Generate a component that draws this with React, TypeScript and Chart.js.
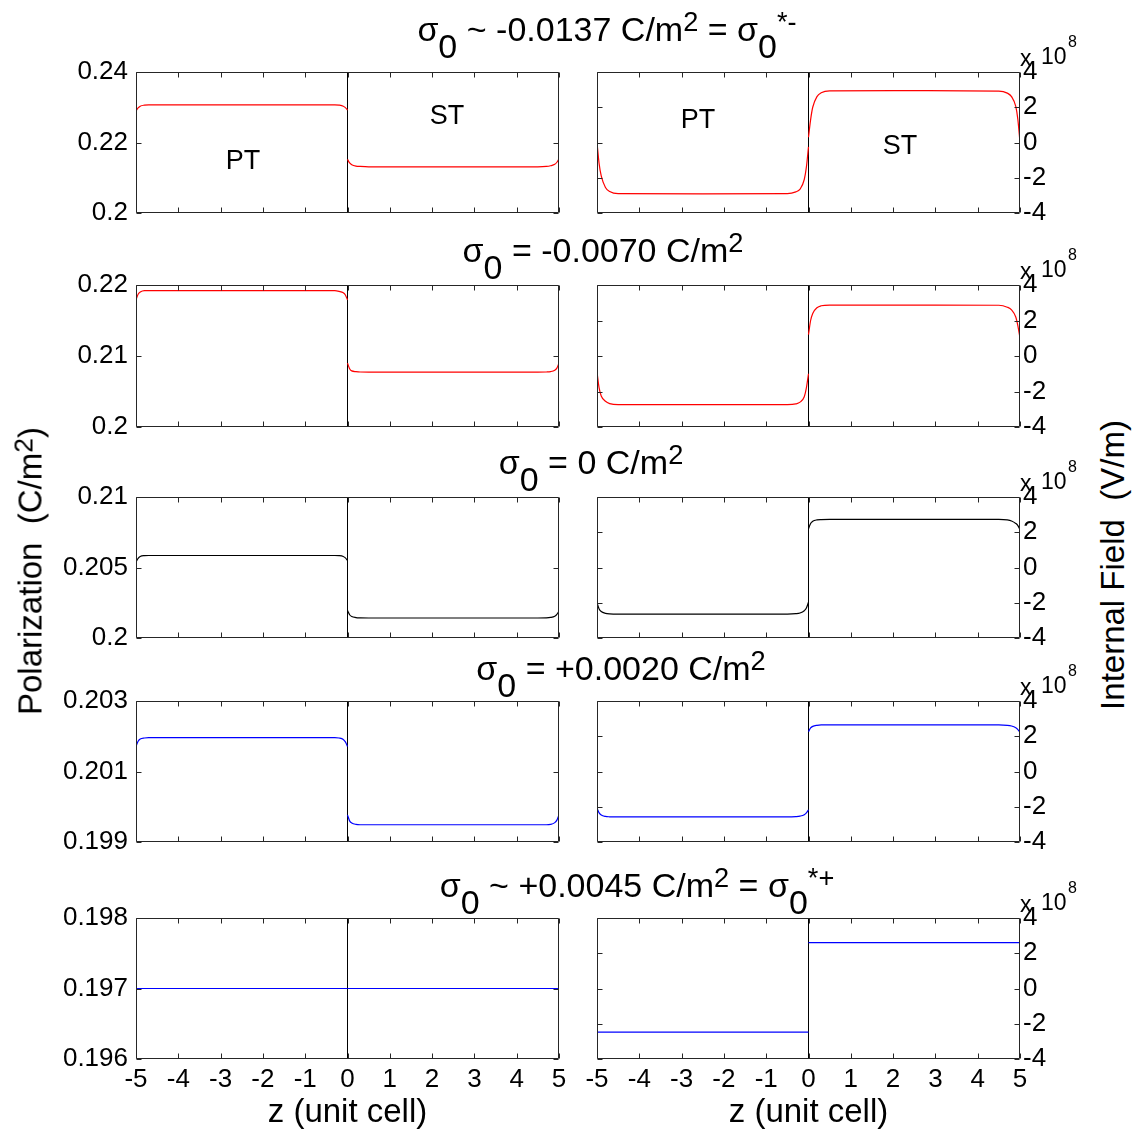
import React, { useEffect, useRef } from 'react';
import { Chart, registerables } from 'chart.js';

Chart.register(...registerables);

// ---------------- data ----------------
// z positions (unit cells) sampled in the PT layer and the ST layer
const Z_PT = [-5, -4.95, -4.9, -4.8, -4.7, -4.5, -2.5, -0.5, -0.3, -0.2, -0.1, -0.05, 0];
const Z_ST = [0, 0.05, 0.1, 0.2, 0.3, 0.5, 2.5, 4.5, 4.7, 4.8, 4.9, 4.95, 5];
const Z_INTERFACE = 0;

// Polarization (C/m^2)
const P1_PT = [0.229, 0.2298, 0.2303, 0.2306, 0.2307, 0.2307, 0.2307, 0.2307, 0.2307, 0.2306, 0.2303, 0.2299, 0.2292];
const P1_ST = [0.2152, 0.2142, 0.2137, 0.2133, 0.2132, 0.2131, 0.2131, 0.2131, 0.2132, 0.2134, 0.2138, 0.2144, 0.2154];
const P2_PT = [0.2179, 0.2187, 0.219, 0.2192, 0.2192, 0.2192, 0.2192, 0.2192, 0.2192, 0.2191, 0.2189, 0.2186, 0.2179];
const P2_ST = [0.209, 0.2082, 0.2079, 0.2078, 0.20775, 0.20773, 0.20773, 0.20773, 0.20775, 0.2078, 0.208, 0.2083, 0.209];
const P3_PT = [0.2054, 0.20565, 0.20578, 0.20584, 0.20585, 0.20585, 0.20585, 0.20585, 0.20585, 0.20584, 0.20578, 0.20568, 0.2055];
const P3_ST = [0.20194, 0.20165, 0.20152, 0.20145, 0.20143, 0.20142, 0.20142, 0.20142, 0.20143, 0.20146, 0.20155, 0.20168, 0.2019];
const P4_PT = [0.20171, 0.20186, 0.20192, 0.20195, 0.20196, 0.20196, 0.20196, 0.20196, 0.20196, 0.20195, 0.20191, 0.20184, 0.20171];
const P4_ST = [0.19977, 0.1996, 0.19954, 0.1995, 0.19949, 0.19949, 0.19949, 0.19949, 0.19949, 0.1995, 0.19955, 0.19962, 0.19977];
const P5_PT = [0.197, 0.197, 0.197, 0.197, 0.197, 0.197, 0.197, 0.197, 0.197, 0.197, 0.197, 0.197, 0.197];
const P5_ST = [0.197, 0.197, 0.197, 0.197, 0.197, 0.197, 0.197, 0.197, 0.197, 0.197, 0.197, 0.197, 0.197];

// Internal field (x 10^8 V/m)
const E1_PT = [0.0, -1.2, -1.9, -2.55, -2.78, -2.9, -2.91, -2.9, -2.8, -2.65, -2.1, -1.4, -0.25];
const E1_ST = [0.3, 1.3, 2.0, 2.6, 2.82, 2.93, 2.94, 2.92, 2.8, 2.6, 2.05, 1.3, 0.0];
const E2_PT = [-0.9, -1.8, -2.25, -2.55, -2.68, -2.74, -2.74, -2.74, -2.7, -2.6, -2.3, -1.8, -1.0];
const E2_ST = [1.2, 2.0, 2.4, 2.72, 2.83, 2.87, 2.87, 2.86, 2.75, 2.6, 2.2, 1.7, 1.0];
const E3_PT = [-2.0, -2.35, -2.5, -2.6, -2.63, -2.64, -2.64, -2.64, -2.62, -2.58, -2.45, -2.3, -1.97];
const E3_ST = [2.2, 2.5, 2.62, 2.7, 2.72, 2.73, 2.73, 2.73, 2.7, 2.64, 2.5, 2.38, 2.14];
const E4_PT = [-2.08, -2.35, -2.47, -2.55, -2.57, -2.58, -2.58, -2.58, -2.56, -2.53, -2.45, -2.35, -2.17];
const E4_ST = [2.26, 2.47, 2.56, 2.62, 2.64, 2.64, 2.64, 2.64, 2.62, 2.58, 2.48, 2.38, 2.23];
const E5_PT = [-2.47, -2.47, -2.47, -2.47, -2.47, -2.47, -2.47, -2.47, -2.47, -2.47, -2.47, -2.47, -2.47];
const E5_ST = [2.6, 2.6, 2.6, 2.6, 2.6, 2.6, 2.6, 2.6, 2.6, 2.6, 2.6, 2.6, 2.6];

// ticks
const X_TICKS = [-5, -4, -3, -2, -1, 0, 1, 2, 3, 4, 5];
const X_TICK_LABELS = ['-5', '-4', '-3', '-2', '-1', '0', '1', '2', '3', '4', '5'];
const P_TICKS_1 = [0.2, 0.22, 0.24];
const P_TICKS_2 = [0.2, 0.21, 0.22];
const P_TICKS_3 = [0.2, 0.205, 0.21];
const P_TICKS_4 = [0.199, 0.201, 0.203];
const P_TICKS_5 = [0.196, 0.197, 0.198];
const P_LABELS_1 = ['0.2', '0.22', '0.24'];
const P_LABELS_2 = ['0.2', '0.21', '0.22'];
const P_LABELS_3 = ['0.2', '0.205', '0.21'];
const P_LABELS_4 = ['0.199', '0.201', '0.203'];
const P_LABELS_5 = ['0.196', '0.197', '0.198'];
const E_TICKS = [-4, -2, 0, 2, 4];
const E_LABELS = ['-4', '-2', '0', '2', '4'];

// row titles
const SIGMA_RELATION = ['~', '=', '=', '=', '~'];
const SIGMA_VALUES = ['-0.0137', '-0.0070', '0', '+0.0020', '+0.0045'];
const SIGMA_STAR = ['-', '', '', '', '+'];
const LINE_COLORS = ['#ff0000', '#ff0000', '#000000', '#0000ff', '#0000ff'];

// ---------------- layout ----------------
const FONT = '"Liberation Sans", Arial, Helvetica, sans-serif';
const PLOT_TOPS = [72, 285, 497, 701, 918];
const PLOT_H = [141, 142, 141, 141, 141];
const LEFT_X0 = 136;
const RIGHT_X0 = 597;
const PLOT_W = 423;
const PAD = 20; // horizontal padding
const VPAD = 32; // vertical padding (room for half tick labels)
const Y_LEFT_W = 100;
const Y_RIGHT_W = 70;
const X_AXIS_H = 50;
const TITLE_BASELINES = [41, 262, 474, 680, 897];
const TITLE_CENTERS = [607, 603, 591, 621, 637];
const TICK_FONT = 26;

const P_PT = [P1_PT, P2_PT, P3_PT, P4_PT, P5_PT];
const P_ST = [P1_ST, P2_ST, P3_ST, P4_ST, P5_ST];
const E_PT = [E1_PT, E2_PT, E3_PT, E4_PT, E5_PT];
const E_ST = [E1_ST, E2_ST, E3_ST, E4_ST, E5_ST];
const P_TICKS = [P_TICKS_1, P_TICKS_2, P_TICKS_3, P_TICKS_4, P_TICKS_5];
const P_LABELS = [P_LABELS_1, P_LABELS_2, P_LABELS_3, P_LABELS_4, P_LABELS_5];

const pts = (xs: number[], ys: number[]) => xs.map((x, i) => ({ x, y: ys[i] }));

const framePlugin = {
  id: 'frameTicks',
  afterDatasetsDraw(chart: any, _args: any, opts: any) {
    const { ctx, chartArea: a, scales } = chart;
    const xs = scales.x;
    const ys = scales.y;
    const L = Math.round(a.left) + 0.5;
    const R = Math.round(a.right) - 0.5;
    const T = Math.round(a.top) + 0.5;
    const B = Math.round(a.bottom) - 0.5;
    const tl = 5;
    ctx.save();
    ctx.strokeStyle = '#262626';
    ctx.lineWidth = 1;
    ctx.beginPath();
    ctx.rect(L, T, R - L, B - T);
    (opts.xTicks as number[]).forEach((v) => {
      const px = Math.round(xs.getPixelForValue(v)) + 0.5;
      ctx.moveTo(px, B);
      ctx.lineTo(px, B - tl);
      ctx.moveTo(px, T);
      ctx.lineTo(px, T + tl);
    });
    (opts.yTicks as number[]).forEach((v) => {
      const py = Math.round(ys.getPixelForValue(v)) + 0.5;
      ctx.moveTo(L, py);
      ctx.lineTo(L + tl, py);
      ctx.moveTo(R, py);
      ctx.lineTo(R - tl, py);
    });
    ctx.stroke();
    ctx.restore();
  },
};

function makeConfig(p: { row: number; side: 'left' | 'right' }) {
  const { row, side } = p;
  const isBottom = row === 4;
  const left = side === 'left';
  const yTicks = left ? P_TICKS[row] : E_TICKS;
  const yLabels = left ? P_LABELS[row] : E_LABELS;
  const ptVals = left ? P_PT[row] : E_PT[row];
  const stVals = left ? P_ST[row] : E_ST[row];
  const color = LINE_COLORS[row];
  const curve = (data: any[]) => ({
    data,
    borderColor: color,
    backgroundColor: color,
    borderWidth: 1.2,
    showLine: true,
    pointRadius: 0,
    cubicInterpolationMode: 'monotone',
    fill: false,
  });
  const tickFont = { family: FONT, size: TICK_FONT };
  return {
    type: 'scatter',
    data: {
      datasets: [
        curve(pts(Z_PT, ptVals)),
        curve(pts(Z_ST, stVals)),
        {
          data: [
            { x: Z_INTERFACE, y: yTicks[0] },
            { x: Z_INTERFACE, y: yTicks[yTicks.length - 1] },
          ],
          borderColor: '#000000',
          borderWidth: 1,
          showLine: true,
          pointRadius: 0,
          tension: 0,
        },
      ],
    },
    options: {
      animation: false,
      responsive: false,
      maintainAspectRatio: false,
      devicePixelRatio: 1,
      events: [],
      layout: {
        padding: {
          top: VPAD,
          left: left ? 0 : PAD,
          right: left ? PAD : 0,
          bottom: isBottom ? 0 : VPAD,
        },
      },
      plugins: {
        legend: { display: false },
        tooltip: { enabled: false },
        frameTicks: { xTicks: X_TICKS, yTicks },
      },
      scales: {
        x: {
          type: 'linear',
          position: 'bottom',
          min: X_TICKS[0],
          max: X_TICKS[X_TICKS.length - 1],
          display: isBottom,
          grid: { display: false, drawTicks: false },
          border: { display: false },
          afterBuildTicks: (s: any) => {
            s.ticks = X_TICKS.map((v) => ({ value: v }));
          },
          afterFit: (s: any) => {
            s.height = isBottom ? X_AXIS_H : 0;
          },
          ticks: {
            autoSkip: false,
            maxRotation: 0,
            minRotation: 0,
            padding: 5,
            color: '#000',
            font: tickFont,
            callback: (_v: any, i: number) => X_TICK_LABELS[i],
          },
        },
        y: {
          type: 'linear',
          position: side,
          min: yTicks[0],
          max: yTicks[yTicks.length - 1],
          grid: { display: false, drawTicks: false },
          border: { display: false },
          afterBuildTicks: (s: any) => {
            s.ticks = yTicks.map((v) => ({ value: v }));
          },
          afterFit: (s: any) => {
            s.width = left ? Y_LEFT_W : Y_RIGHT_W;
          },
          ticks: {
            autoSkip: false,
            padding: left ? 8 : 3,
            color: '#000',
            font: tickFont,
            callback: (_v: any, i: number) => yLabels[i],
          },
        },
      },
    },
    plugins: [framePlugin],
  } as any;
}

function Panel({ row, side }: { row: number; side: 'left' | 'right' }) {
  const ref = useRef<HTMLCanvasElement>(null);
  const isBottom = row === 4;
  const left = side === 'left';
  const width = left ? Y_LEFT_W + PLOT_W + PAD : PAD + PLOT_W + Y_RIGHT_W;
  const height = VPAD + PLOT_H[row] + (isBottom ? X_AXIS_H : VPAD);
  const x = left ? LEFT_X0 - Y_LEFT_W : RIGHT_X0 - PAD;
  const y = PLOT_TOPS[row] - VPAD;
  useEffect(() => {
    const chart = new Chart(ref.current as HTMLCanvasElement, makeConfig({ row, side }));
    return () => chart.destroy();
  }, [row, side]);
  return (
    <canvas
      ref={ref}
      width={width}
      height={height}
      style={{ position: 'absolute', left: x, top: y, width, height }}
    />
  );
}

const BASE = 0.8465;

function Text({
  x,
  baseline,
  size,
  children,
  align = 'center',
}: {
  x: number;
  baseline: number;
  size: number;
  children: any;
  align?: 'center' | 'left';
}) {
  return (
    <div
      style={{
        position: 'absolute',
        left: x,
        top: baseline - BASE * size,
        fontSize: size,
        lineHeight: 1,
        whiteSpace: 'nowrap',
        fontFamily: FONT,
        color: '#000',
        transform: align === 'center' ? 'translateX(-50%)' : undefined,
      }}
    >
      {children}
    </div>
  );
}

const Sub = ({ children }: { children: any }) => (
  <span style={{ position: 'relative', top: '0.5em', fontSize: '1em' }}>{children}</span>
);
const Sup = ({ children }: { children: any }) => (
  <span style={{ position: 'relative', top: '-0.36em', fontSize: '0.8em' }}>{children}</span>
);

function VLabel({ cx, cy, size, children }: { cx: number; cy: number; size: number; children: any }) {
  return (
    <div
      style={{
        position: 'absolute',
        left: cx,
        top: cy,
        fontSize: size,
        lineHeight: 1,
        whiteSpace: 'pre',
        fontFamily: FONT,
        color: '#000',
        transform: 'translate(-50%, -50%) rotate(-90deg)',
      }}
    >
      {children}
    </div>
  );
}

export default function App() {
  const rows = [0, 1, 2, 3, 4];
  return (
    <div
      style={{
        position: 'absolute',
        left: 0,
        top: 0,
        width: 1144,
        height: 1137,
        background: '#fff',
        overflow: 'hidden',
        fontFamily: FONT,
      }}
    >
      {rows.map((r) => (
        <React.Fragment key={r}>
          <Panel row={r} side="left" />
          <Panel row={r} side="right" />
          <Text x={TITLE_CENTERS[r]} baseline={TITLE_BASELINES[r]} size={34}>
            σ<Sub>0</Sub> {SIGMA_RELATION[r]} {SIGMA_VALUES[r]} C/m<Sup>2</Sup>
            {SIGMA_STAR[r] ? (
              <>
                {' '}= σ<Sub>0</Sub>
                <Sup>*{SIGMA_STAR[r]}</Sup>
              </>
            ) : null}
          </Text>
          <Text x={1020} baseline={PLOT_TOPS[r] - 6} size={23} align="left">
            x
          </Text>
          <Text x={1041} baseline={PLOT_TOPS[r] - 8} size={23} align="left">
            10
          </Text>
          <Text x={1068} baseline={PLOT_TOPS[r] - 24} size={16} align="left">
            8
          </Text>
        </React.Fragment>
      ))}
      {/* layer labels */}
      <Text x={243} baseline={170} size={27}>PT</Text>
      <Text x={447} baseline={125} size={27}>ST</Text>
      <Text x={698} baseline={129} size={27}>PT</Text>
      <Text x={900} baseline={155} size={27}>ST</Text>
      {/* axis labels */}
      <Text x={LEFT_X0 + PLOT_W / 2} baseline={1122} size={33}>z (unit cell)</Text>
      <Text x={RIGHT_X0 + PLOT_W / 2} baseline={1122} size={33}>z (unit cell)</Text>
      <VLabel cx={30} cy={571} size={33}>
        Polarization{'  '}(C/m<Sup>2</Sup>)
      </VLabel>
      <VLabel cx={1112} cy={565} size={33}>
        Internal Field{'  '}(V/m)
      </VLabel>
    </div>
  );
}
